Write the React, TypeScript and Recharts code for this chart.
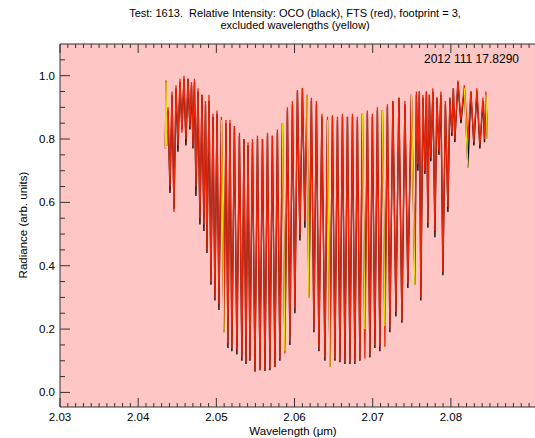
import React from 'react';
import { LineChart, Line, XAxis, YAxis, CartesianGrid } from 'recharts';

// wavelength (um), alternating continuum peaks and line cores
const wavelength = [
  2.04348, 2.04356, 2.04366, 2.04382, 2.04407, 2.04433, 2.04458, 2.04484, 2.04509, 2.04535,
  2.0456, 2.04586, 2.04611, 2.04637, 2.04662, 2.04682, 2.04701, 2.0472, 2.04739, 2.04765,
  2.0479, 2.04816, 2.04841, 2.04861, 2.0488, 2.04906, 2.04931, 2.04957, 2.04982, 2.05008,
  2.05033, 2.05065, 2.05097, 2.05123, 2.05148, 2.05174, 2.05199, 2.05231, 2.05263, 2.05295,
  2.05327, 2.05353, 2.05379, 2.05405, 2.0543, 2.05462, 2.05494, 2.05526, 2.05558, 2.0559,
  2.05622, 2.05654, 2.05685, 2.05717, 2.05749, 2.05781, 2.05813, 2.05845, 2.05877, 2.05909,
  2.05941, 2.05973, 2.06005, 2.06037, 2.06069, 2.06101, 2.06133, 2.06159, 2.06184, 2.06216,
  2.06248, 2.0628, 2.06312, 2.0635, 2.06389, 2.06421, 2.06453, 2.06485, 2.06517, 2.06549,
  2.06581, 2.06613, 2.06645, 2.06677, 2.06709, 2.06741, 2.06772, 2.06804, 2.06836, 2.06868,
  2.069, 2.06932, 2.06964, 2.06996, 2.07028, 2.0706, 2.07092, 2.07124, 2.07156, 2.07188,
  2.0722, 2.07258, 2.07297, 2.07335, 2.07374, 2.07412, 2.0745, 2.07495, 2.0754, 2.07559,
  2.07578, 2.07597, 2.07616, 2.07642, 2.07668, 2.07687, 2.07706, 2.07725, 2.07744, 2.0777,
  2.07796, 2.07821, 2.07847, 2.07872, 2.07898, 2.0793, 2.07962, 2.07987, 2.08013, 2.08032,
  2.08051, 2.0809, 2.08128, 2.08173, 2.08218, 2.08256, 2.08294, 2.08333, 2.08371, 2.0841,
  2.0843, 2.08448, 2.08466,
];

// FTS relative intensity (red)
const fts = [
  0.78, 0.985, 0.8, 0.9, 0.65, 0.95, 0.57, 0.97, 0.78, 0.99,
  0.82, 1.0, 0.8, 0.99, 0.84, 0.98, 0.78, 0.99, 0.65, 0.96,
  0.55, 0.94, 0.53, 0.92, 0.45, 0.94, 0.35, 0.88, 0.3, 0.89,
  0.28, 0.87, 0.2, 0.86, 0.155, 0.86, 0.14, 0.84, 0.135, 0.82,
  0.11, 0.8, 0.097, 0.79, 0.107, 0.8, 0.07, 0.81, 0.07, 0.8,
  0.07, 0.82, 0.076, 0.81, 0.081, 0.83, 0.107, 0.85, 0.123, 0.9,
  0.16, 0.92, 0.265, 0.955, 0.497, 0.96, 0.539, 0.93, 0.307, 0.93,
  0.197, 0.92, 0.139, 0.88, 0.112, 0.87, 0.083, 0.875, 0.107, 0.87,
  0.102, 0.88, 0.097, 0.87, 0.097, 0.88, 0.097, 0.87, 0.102, 0.88,
  0.107, 0.89, 0.118, 0.88, 0.149, 0.9, 0.144, 0.89, 0.144, 0.91,
  0.202, 0.92, 0.255, 0.93, 0.228, 0.92, 0.344, 0.94, 0.37, 0.95,
  0.72, 0.95, 0.3, 0.94, 0.7, 0.95, 0.535, 0.94, 0.74, 0.96,
  0.51, 0.93, 0.76, 0.95, 0.38, 0.92, 0.586, 0.93, 0.82, 0.96,
  0.8, 0.985, 0.86, 0.97, 0.8, 0.95, 0.79, 0.96, 0.78, 0.93,
  0.8, 0.95, 0.82,
];

// OCO relative intensity (black)
const oco = [
  0.77, 0.98, 0.78, 0.89, 0.63, 0.94, 0.58, 0.96, 0.76, 0.98,
  0.83, 0.99, 0.78, 0.99, 0.83, 0.97, 0.77, 0.98, 0.62, 0.95,
  0.53, 0.94, 0.51, 0.91, 0.44, 0.92, 0.34, 0.87, 0.29, 0.88,
  0.26, 0.86, 0.19, 0.85, 0.14, 0.85, 0.13, 0.84, 0.12, 0.81,
  0.1, 0.8, 0.09, 0.78, 0.1, 0.79, 0.065, 0.8, 0.07, 0.8,
  0.068, 0.81, 0.07, 0.81, 0.08, 0.82, 0.1, 0.85, 0.13, 0.89,
  0.15, 0.91, 0.25, 0.95, 0.48, 0.96, 0.52, 0.94, 0.3, 0.92,
  0.19, 0.91, 0.13, 0.87, 0.1, 0.86, 0.08, 0.87, 0.1, 0.86,
  0.095, 0.87, 0.09, 0.87, 0.09, 0.87, 0.09, 0.86, 0.1, 0.88,
  0.2, 0.88, 0.11, 0.87, 0.14, 0.89, 0.13, 0.89, 0.21, 0.9,
  0.19, 0.92, 0.24, 0.93, 0.22, 0.91, 0.33, 0.94, 0.34, 0.94,
  0.7, 0.95, 0.29, 0.93, 0.69, 0.95, 0.52, 0.94, 0.73, 0.95,
  0.49, 0.93, 0.75, 0.94, 0.37, 0.91, 0.57, 0.93, 0.81, 0.96,
  0.79, 0.98, 0.85, 0.96, 0.71, 0.95, 0.78, 0.95, 0.77, 0.92,
  0.79, 0.94, 0.8,
];

// excluded wavelength windows (yellow)
const excludedRanges = [
  [2.0434, 2.0437], [2.0506, 2.051], [2.0584, 2.0588], [2.0615, 2.0619], [2.0642, 2.0646],
  [2.0686, 2.0691], [2.0712, 2.0716], [2.0749, 2.0755], [2.0817, 2.0822], [2.0844, 2.0848],
];

const xMajor = [2.03, 2.04, 2.05, 2.06, 2.07, 2.08];
const yMajor = [0, 0.2, 0.4, 0.6, 0.8, 1.0];

const xTicks: number[] = [];
for (let i = 0; i <= 61; i++) xTicks.push(Number((2.03 + i * 0.001).toFixed(3)));
const yTicks: number[] = [];
for (let i = 0; i <= 21; i++) yTicks.push(Number((i * 0.05).toFixed(2)));

const isExcluded = (w: number) => excludedRanges.some(([a, b]) => w >= a && w <= b);

const data = wavelength.map((w, i) => ({
  w,
  fts: fts[i],
  oco: oco[i],
  excl: isExcluded(w) ? oco[i] : null,
}));

const FONT = '"Liberation Sans", Arial, Helvetica, sans-serif';
const AXIS = '#333';

const isMajor = (v: number, majors: number[]) => majors.some(m => Math.abs(m - v) < 1e-6);

const BottomTick = ({ x, y, payload }: any) => {
  const major = isMajor(payload.value, xMajor);
  return (
    <g>
      <line x1={x} x2={x} y1={y} y2={y - (major ? 9 : 4)} stroke={AXIS} />
      {major && (
        <text x={x} y={y + 14} textAnchor="middle" fontSize={11.5} fontFamily={FONT} fill="#000">
          {payload.value.toFixed(2)}
        </text>
      )}
    </g>
  );
};

const TopTick = ({ x, y, payload }: any) => {
  const major = isMajor(payload.value, xMajor);
  return <line x1={x} x2={x} y1={y} y2={y + (major ? 9 : 4)} stroke={AXIS} />;
};

const LeftTick = ({ x, y, payload }: any) => {
  const major = isMajor(payload.value, yMajor);
  return (
    <g>
      <line x1={x} x2={x + (major ? 10 : 5)} y1={y} y2={y} stroke={AXIS} />
      {major && (
        <text x={x - 5} y={y + 4} textAnchor="end" fontSize={11.5} fontFamily={FONT} fill="#000">
          {payload.value.toFixed(1)}
        </text>
      )}
    </g>
  );
};

const RightTick = ({ x, y, payload }: any) => {
  const major = isMajor(payload.value, yMajor);
  return <line x1={x} x2={x - (major ? 10 : 5)} y1={y} y2={y} stroke={AXIS} />;
};

export default function App() {
  return (
    <div style={{ position: 'absolute', left: 0, top: 0, width: 535, height: 438, overflow: 'hidden', background: '#fff' }}>
      <LineChart
        width={545}
        height={438}
        data={data}
        margin={{ top: 0, right: 5, bottom: 0, left: 0 }}
      >
        <CartesianGrid horizontal={false} vertical={false} fill="#FFC6C6" stroke="none" />
        <XAxis
          xAxisId="b"
          dataKey="w"
          type="number"
          domain={[2.03, 2.0914]}
          ticks={xTicks}
          interval={0}
          allowDataOverflow
          height={31}
          tickSize={0}
          tickMargin={0}
          tickLine={false}
          axisLine={{ stroke: AXIS }}
          tick={<BottomTick />}
        />
        <XAxis
          xAxisId="t"
          orientation="top"
          dataKey="w"
          type="number"
          domain={[2.03, 2.0914]}
          ticks={xTicks}
          interval={0}
          allowDataOverflow
          height={44}
          tickSize={0}
          tickMargin={0}
          tickLine={false}
          axisLine={{ stroke: AXIS }}
          tick={<TopTick />}
        />
        <YAxis
          yAxisId="l"
          type="number"
          domain={[-0.046, 1.1]}
          ticks={yTicks}
          interval={0}
          allowDataOverflow
          width={60}
          tickSize={0}
          tickMargin={0}
          tickLine={false}
          axisLine={{ stroke: AXIS }}
          tick={<LeftTick />}
        />
        <YAxis
          yAxisId="r"
          orientation="right"
          type="number"
          domain={[-0.046, 1.1]}
          ticks={yTicks}
          interval={0}
          allowDataOverflow
          width={0}
          tickSize={0}
          tickMargin={0}
          tickLine={false}
          axisLine={{ stroke: AXIS }}
          tick={<RightTick />}
        />
        <Line xAxisId="b" yAxisId="l" type="linear" dataKey="oco" stroke="#000" strokeWidth={1.3} dot={false} isAnimationActive={false} />
        <Line xAxisId="b" yAxisId="l" type="linear" dataKey="fts" stroke="#EE2408" strokeWidth={1.3} dot={false} isAnimationActive={false} />
        <Line xAxisId="b" yAxisId="l" type="linear" dataKey="excl" stroke="#E6E000" strokeWidth={1.3} dot={false} connectNulls={false} isAnimationActive={false} />
      </LineChart>
      <svg width={535} height={438} style={{ position: 'absolute', left: 0, top: 0, pointerEvents: 'none' }}>
        <g fontFamily={FONT} fill="#000">
          <text x={295} y={17} textAnchor="middle" fontSize={11} style={{ whiteSpace: 'pre' }}>
            {'Test: 1613.  Relative Intensity: OCO (black), FTS (red), footprint = 3,'}
          </text>
          <text x={295} y={29} textAnchor="middle" fontSize={11}>excluded wavelengths (yellow)</text>
          <text x={519} y={63} textAnchor="end" fontSize={12}>2012 111 17.8290</text>
          <text x={293} y={435} textAnchor="middle" fontSize={11.5}>Wavelength (μm)</text>
          <text x={27} y={225} textAnchor="middle" fontSize={11.5} transform="rotate(-90 27 225)">
            Radiance (arb. units)
          </text>
        </g>
      </svg>
    </div>
  );
}
